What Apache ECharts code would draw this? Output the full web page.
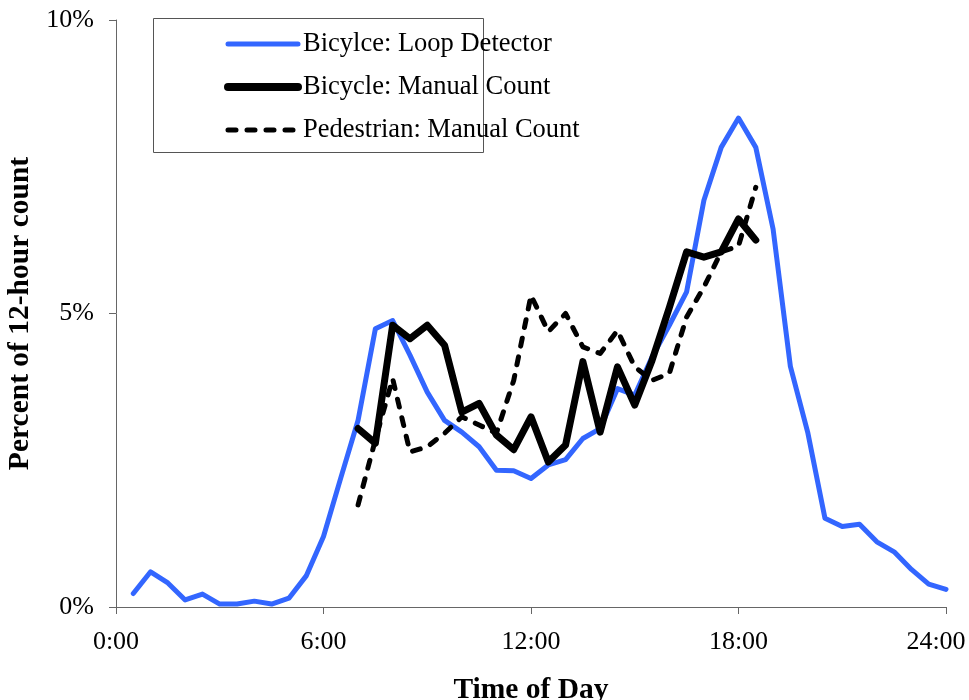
<!DOCTYPE html>
<html>
<head>
<meta charset="utf-8">
<script src="https://cdn.jsdelivr.net/npm/echarts@6/dist/echarts.min.js"></script>
<style>
html,body{margin:0;padding:0;background:#fff;}
#chart{width:969px;height:700px;}
</style>
</head>
<body>
<div id="chart"></div>
<script>
// Loop detector times (half-hour ends) and values (%)
const loopTimes = ['0:30','1:00','1:30','2:00','2:30','3:00','3:30','4:00','4:30','5:00','5:30','6:00',
  '6:30','7:00','7:30','8:00','8:30','9:00','9:30','10:00','10:30','11:00','11:30','12:00',
  '12:30','13:00','13:30','14:00','14:30','15:00','15:30','16:00','16:30','17:00','17:30','18:00',
  '18:30','19:00','19:30','20:00','20:30','21:00','21:30','22:00','22:30','23:00','23:30','24:00'];
const loopValues = [0.23,0.60,0.41,0.12,0.22,0.05,0.05,0.10,0.05,0.15,0.53,1.20,
  2.20,3.18,4.74,4.88,4.29,3.66,3.18,2.98,2.73,2.33,2.32,2.19,
  2.42,2.51,2.87,3.04,3.72,3.61,4.26,4.80,5.37,6.93,7.83,8.33,
  7.83,6.44,4.10,2.98,1.51,1.37,1.41,1.11,0.94,0.64,0.39,0.30];

const manualTimes = ['7:00','7:30','8:00','8:30','9:00','9:30','10:00','10:30','11:00','11:30','12:00','12:30',
  '13:00','13:30','14:00','14:30','15:00','15:30','16:00','16:30','17:00','17:30','18:00','18:30'];
const bikeManualValues = [3.04,2.79,4.80,4.57,4.80,4.46,3.32,3.47,2.93,2.68,3.24,2.47,
  2.76,4.18,2.98,4.09,3.44,4.20,5.10,6.05,5.96,6.05,6.61,6.25];
const pedManualValues = [1.74,2.85,3.89,2.64,2.73,2.96,3.24,3.10,2.96,3.86,5.31,4.69,
  5.00,4.43,4.32,4.71,4.09,3.86,3.98,4.94,5.45,6.05,6.15,7.15];

const xTicks = [0, 6, 12, 18, 24];
const seriesNames = ['Bicylce: Loop Detector', 'Bicycle: Manual Count', 'Pedestrian: Manual Count'];

function toHour(s){ const p = s.split(':'); return Number(p[0]) + Number(p[1]) / 60; }
function pairs(times, vals){ return times.map((t, i) => [toHour(t), vals[i]]); }

const FONT = '"Liberation Serif", "Times New Roman", serif';
const axisColor = '#666';
const BLUE = '#3366ff';
const DASH = [8, 11];

const chart = echarts.init(document.getElementById('chart'));
chart.setOption({
  animation: false,
  backgroundColor: '#fff',
  textStyle: { fontFamily: FONT },
  grid: { left: 116, right: 23, top: 20, bottom: 93, containLabel: false, outerBoundsMode: 'none' },
  graphic: [{
    type: 'rect', z: 1,
    shape: { x: 153.5, y: 18.5, width: 330, height: 134 },
    style: { fill: '#fff', stroke: '#555', lineWidth: 1 }
  }],
  legend: {
    orient: 'vertical',
    left: 224, top: 29,
    padding: 0,
    itemWidth: 70, itemHeight: 14, itemGap: 13,
    z: 5,
    itemStyle: { opacity: 0 },
    textStyle: { fontFamily: FONT, fontSize: 26.5, color: '#000', lineHeight: 30 },
    data: [
      { name: seriesNames[0], itemStyle: { opacity: 0 }, lineStyle: { color: BLUE, width: 5, cap: 'round' } },
      { name: seriesNames[1], itemStyle: { opacity: 0 }, lineStyle: { color: '#000', width: 8, cap: 'round' } },
      { name: seriesNames[2], itemStyle: { opacity: 0 }, lineStyle: { color: '#000', width: 5, type: DASH, cap: 'round' } }
    ]
  },
  xAxis: {
    type: 'value', min: 0, max: 24, interval: 6,
    name: 'Time of Day', nameLocation: 'middle', nameGap: 68,
    nameTextStyle: { fontFamily: FONT, fontSize: 29.5, fontWeight: 'bold', color: '#000' },
    axisLine: { show: true, onZero: false, lineStyle: { color: axisColor, width: 1 } },
    axisTick: { show: true, length: 7, lineStyle: { color: axisColor } },
    splitLine: { show: false },
    axisLabel: {
      margin: 22, fontFamily: FONT, fontSize: 26, color: '#000',
      showMinLabel: true, showMaxLabel: true,
      formatter: v => v === 24 ? '{e|24:00}' : v + ':00',
      rich: { e: { fontFamily: FONT, fontSize: 26, color: '#000', padding: [0, 20, 0, 0] } }
    }
  },
  yAxis: {
    type: 'value', min: 0, max: 10, interval: 5,
    name: 'Percent of 12-hour count', nameLocation: 'middle', nameGap: 77,
    nameTextStyle: { fontFamily: FONT, fontSize: 29.5, fontWeight: 'bold', color: '#000' },
    axisLine: { show: true, lineStyle: { color: axisColor, width: 1 } },
    axisTick: { show: true, length: 7, lineStyle: { color: axisColor } },
    splitLine: { show: false },
    axisLabel: { margin: 22, fontFamily: FONT, fontSize: 26, color: '#000', formatter: '{value}%' }
  },
  series: [
    {
      name: seriesNames[0], type: 'line', symbol: 'none', z: 2,
      data: pairs(loopTimes, loopValues),
      lineStyle: { color: BLUE, width: 5, join: 'round', cap: 'round' },
      itemStyle: { color: BLUE }
    },
    {
      name: seriesNames[1], type: 'line', symbol: 'none', z: 3,
      data: pairs(manualTimes, bikeManualValues),
      lineStyle: { color: '#000', width: 7, join: 'round', cap: 'round' },
      itemStyle: { color: '#000' }
    },
    {
      name: seriesNames[2], type: 'line', symbol: 'none', z: 4,
      data: pairs(manualTimes, pedManualValues),
      lineStyle: { color: '#000', width: 5, type: DASH, join: 'round', cap: 'round' },
      itemStyle: { color: '#000' }
    }
  ]
});
</script>
</body>
</html>
